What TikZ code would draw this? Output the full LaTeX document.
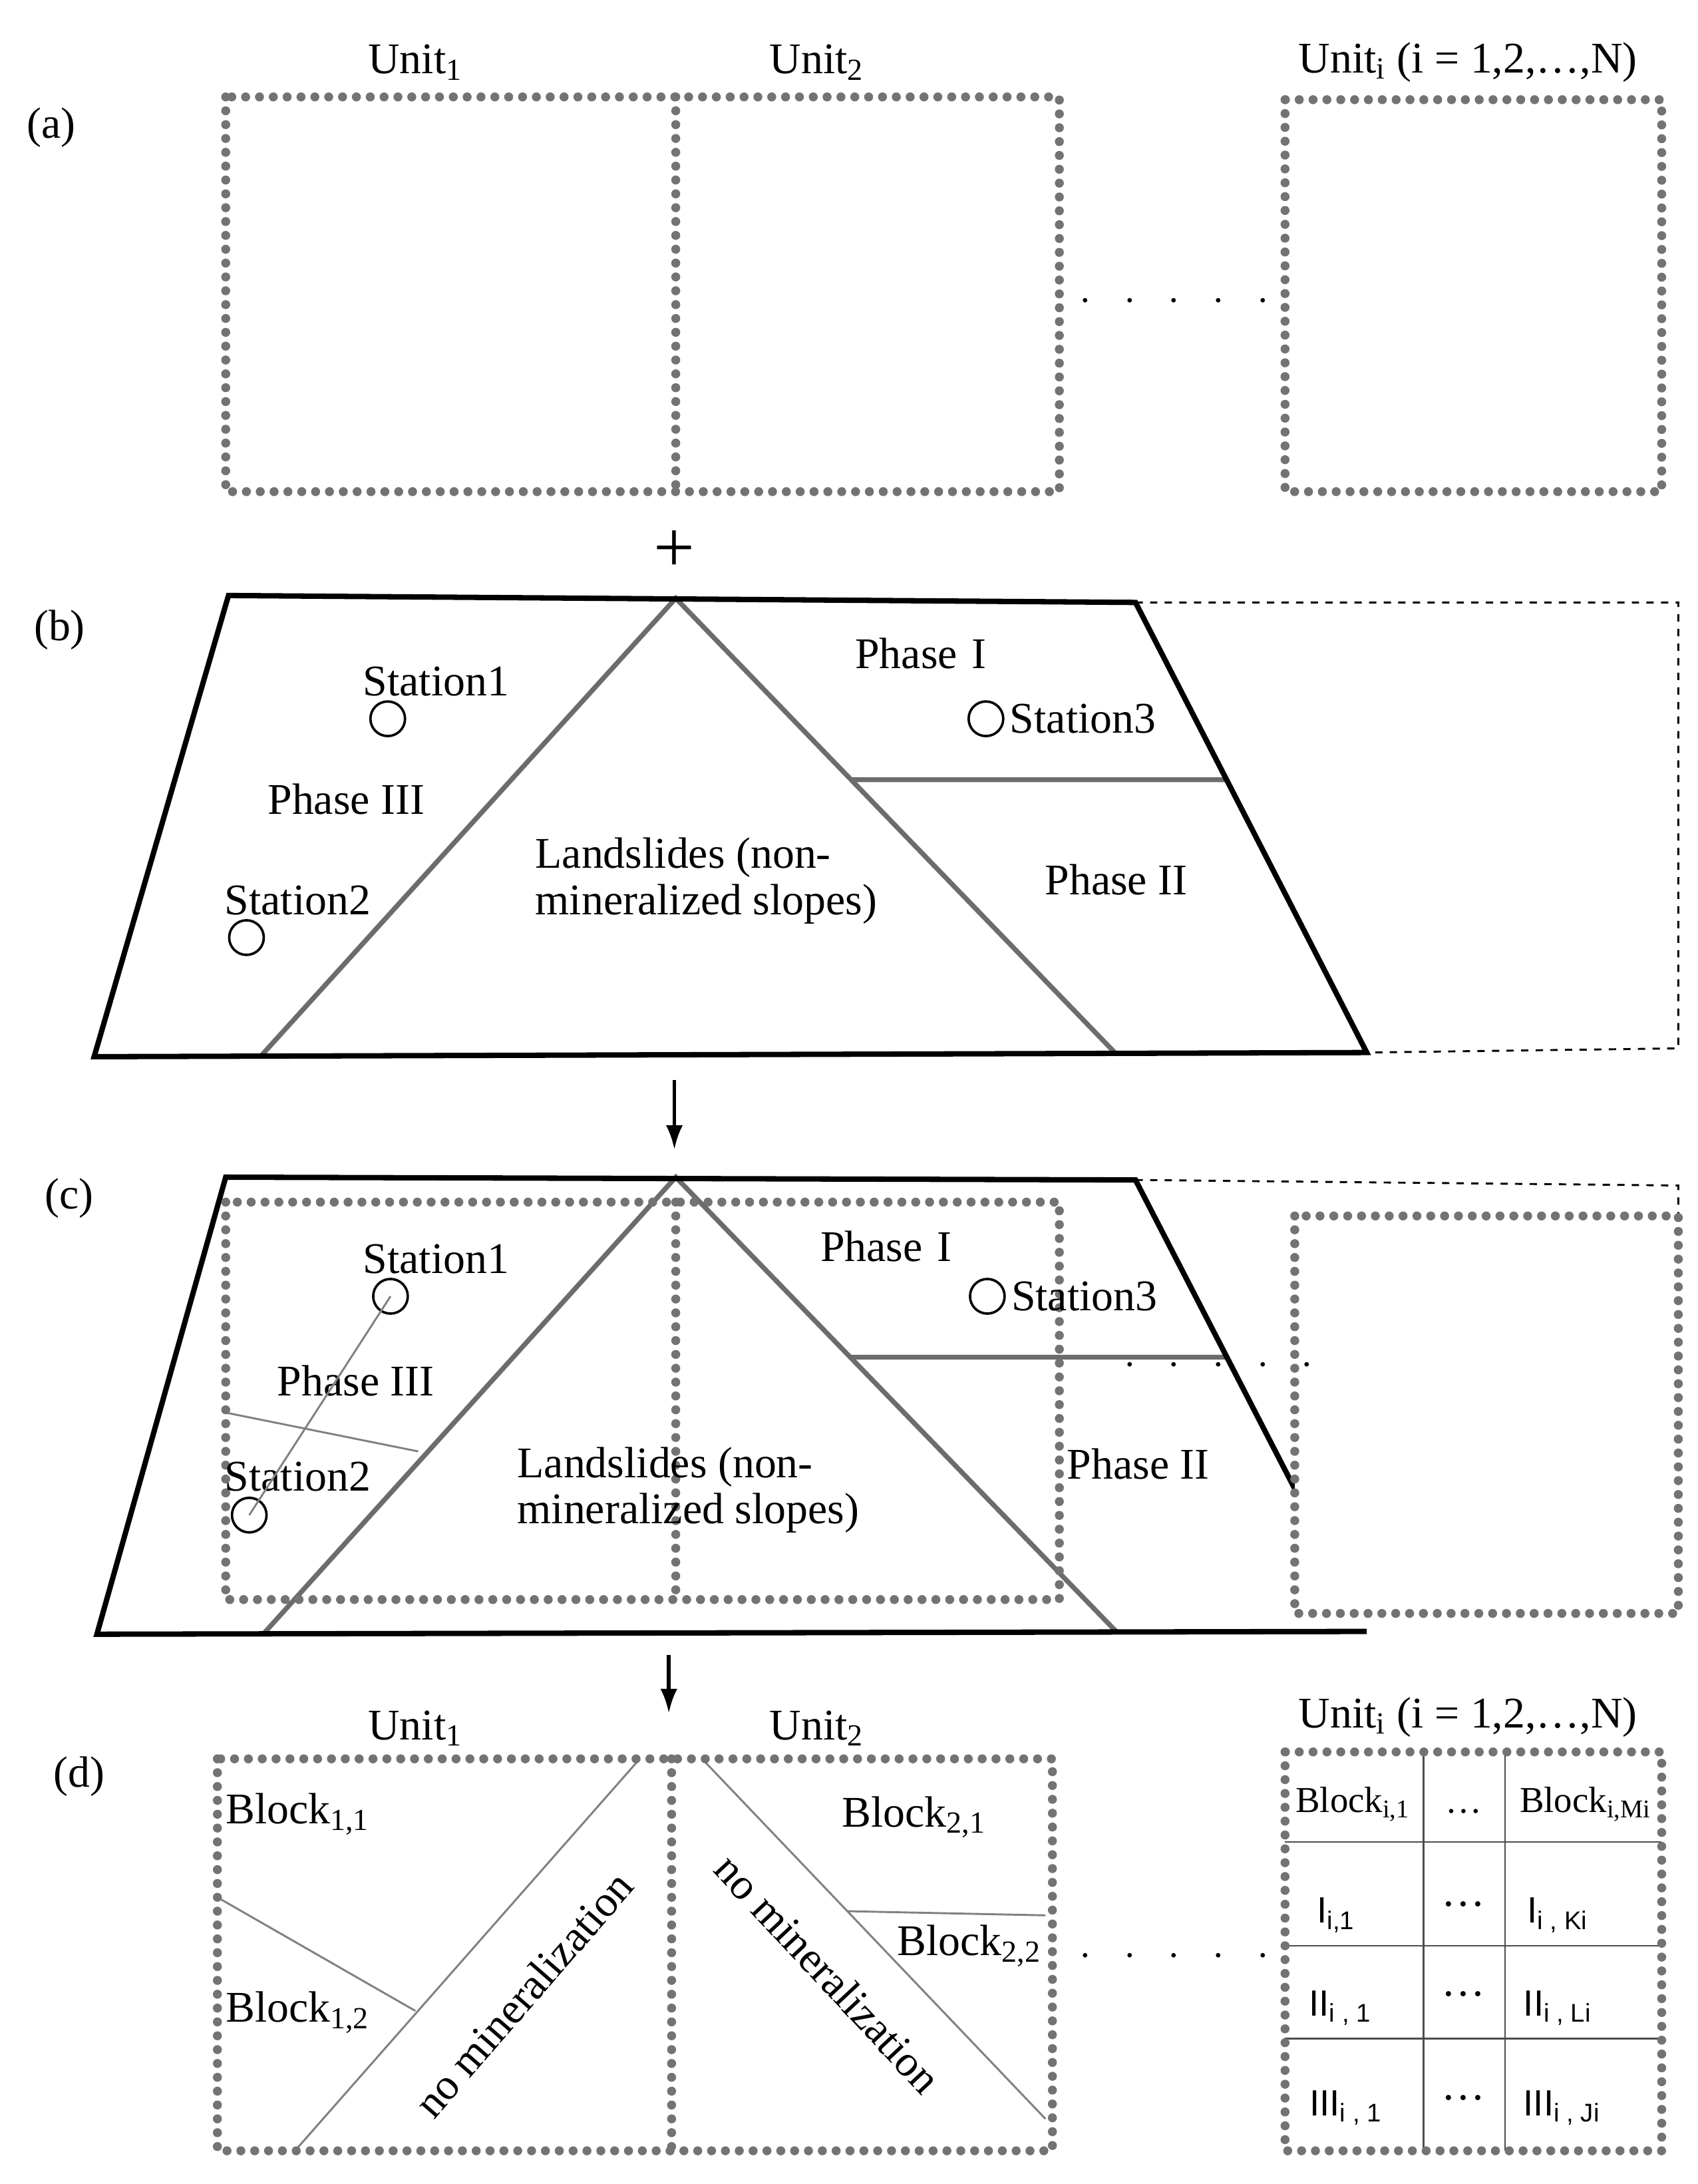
\documentclass[tikz,border=0pt]{standalone}
\usepackage{fontspec}
\setmainfont{Liberation Serif}
\newfontfamily\sansf{Liberation Sans}
\usetikzlibrary{arrows.meta}
\begin{document}
\begin{tikzpicture}[x=0.02cm,y=-0.02cm,
 dotb/.style={draw=gray!90!black,line width=0.13cm,dash pattern=on 0pt off 0.2cm,line cap=round},
 thick1/.style={line width=2.2pt,black},
 tri/.style={draw=gray!85!black,line width=2pt},
 thin1/.style={draw=gray,line width=0.8pt},
 txt/.style={font=\fontsize{18}{21}\selectfont,inner sep=0pt},
 st/.style={circle,draw,line width=1pt,minimum size=0.5cm,inner sep=0pt},
 arr/.style={-{Latex[length=10pt,width=7pt]},line width=1.5pt}]
\useasboundingbox (0,0) rectangle (1226,1577);
% (a)
\node[txt] (la) at (37,92) {(a)};
\node[txt] (u1) at (300,45) {Unit\textsubscript{1}};
\node[txt] (u2) at (590,45) {Unit\textsubscript{2}};
\node[txt] (ui) at (1060,45) {Unit\textsubscript{i} (i = 1,2,\ldots,N)};
\draw[dotb] (163,70) rectangle (765,355) (488,70) -- (488,355);
\draw[dotb] (928,72) rectangle (1200,355);
\node[txt,font=\bfseries\fontsize{18}{21}\selectfont] (da) at (848,218) {$\cdot\;\;\cdot\;\;\cdot\;\;\cdot\;\;\cdot$};
\node[font=\fontsize{30}{30}\selectfont] (plus) at (487,398) {+};
% (b)
\node[txt] (lb) at (43,455) {(b)};
\draw[dashed,line width=0.8pt] (820,435) -- (1212,435) -- (1212,757) -- (987,760);
\draw[tri] (188,763) -- (488,432) -- (806,761) (615,563) -- (885,563);
\draw[thick1] (165,430) -- (820,435) -- (987,760) -- (68,763) -- cycle;
\node[txt] (p1b) at (665,472) {Phase\,\,I};
\node[st] (s3b) at (712,519) {}; \node[txt,anchor=west] (t3b) at (729,519) {Station3};
\node[txt] (t1b) at (315,492) {Station1}; \node[st] (s1b) at (280,519) {};
\node[txt] (p3b) at (250,577) {Phase III};
\node[txt] (t2b) at (215,650) {Station2}; \node[st] (s2b) at (178,677) {};
\node[txt,align=left] (lsb) at (510,636) {Landslides (non-\\[-2pt]mineralized slopes)};
\node[txt] (p2b) at (806,635) {Phase II};
\coordinate (ab1) at (487,780); \coordinate (ab2) at (487,830);
\draw[arr] (ab1) -- (ab2);
% (c)
\node[txt] (lc) at (50,865) {(c)};
\draw[dashed,line width=0.8pt] (820,852) -- (1212,856) -- (1212,878);
\draw[tri] (190,1180) -- (488,850) -- (806,1178) (615,980) -- (885,980);
\draw[thin1] (163,1020) -- (302,1048);
\draw[thick1] (987,1178) -- (70,1180) -- (163,850) -- (820,852) -- (935,1075);
\draw[dotb] (163,868) rectangle (765,1155) (488,868) -- (488,1155);
\draw[dotb,fill=white] (935,878) rectangle (1212,1165);
\node[txt] (dc) at (880,986) {$\cdot\;\;\cdot\;\;\cdot\;\;\cdot\;\;\cdot$};
\node[txt] (p1c) at (640,900) {Phase\,\,I};
\node[st] (s3c) at (713,936) {}; \node[txt,anchor=west] (t3c) at (730,936) {Station3};
\node[txt] (t1c) at (315,909) {Station1}; \node[st] (s1c) at (282,936) {};
\node[txt] (p3c) at (257,997) {Phase III};
\node[txt] (t2c) at (215,1066) {Station2}; \node[st] (s2c) at (180,1094) {};
\draw[thin1] (s1c.center) -- (s2c.center);
\node[txt,align=left] (lsc) at (497,1076) {Landslides (non-\\[-2pt]mineralized slopes)};
\node[txt] (p2c) at (822,1057) {Phase II};
\coordinate (ac1) at (483,1195); \coordinate (ac2) at (483,1237);
\draw[arr] (ac1) -- (ac2);
% (d)
\node[txt] (ld) at (57,1283) {(d)};
\node[txt] (d1) at (300,1248) {Unit\textsubscript{1}};
\node[txt] (d2) at (590,1248) {Unit\textsubscript{2}};
\node[txt] (di) at (1060,1240) {Unit\textsubscript{i} (i = 1,2,\ldots,N)};
\draw[thin1] (213,1553) -- (462,1270) (507,1270) -- (755,1530) (157,1370) -- (300,1452) (612,1380) -- (755,1383);
\draw[dotb] (157,1270) rectangle (760,1553) (485,1270) -- (485,1553);
\node[txt] (b11) at (215,1310) {Block\textsubscript{1,1}};
\node[txt] (b12) at (215,1453) {Block\textsubscript{1,2}};
\node[txt] (b21) at (660,1312) {Block\textsubscript{2,1}};
\node[txt] (b22) at (700,1405) {Block\textsubscript{2,2}};
\node[txt,rotate=49] (nm1) at (378,1440) {no mineralization};
\node[txt,rotate=-47] (nm2) at (598,1425) {no mineralization};
\node[txt] (dd) at (848,1413) {$\cdot\;\;\cdot\;\;\cdot\;\;\cdot\;\;\cdot$};
\draw[line width=0.6pt,gray!60!black] (1028,1265) -- (1028,1553) (1087,1265) -- (1087,1553)
  (928,1330) -- (1200,1330) (928,1405) -- (1200,1405) (928,1472) -- (1202,1472);
\draw[dotb] (928,1265) rectangle (1200,1553);
\node[txt,font=\fontsize{15}{18}\selectfont] (bi1) at (977,1303) {Block\textsubscript{i,1}};
\node[txt,font=\fontsize{15}{18}\selectfont] (bim) at (1145,1303) {Block\textsubscript{i,Mi}};
\node[txt,font=\fontsize{15}{18}\selectfont] (e1) at (1057,1308) {\ldots};
\node[txt,font=\fontsize{15}{18}\sansf] (i1) at (965,1383) {I\textsubscript{i,1}};
\node[txt,font=\fontsize{15}{18}\sansf] (ik) at (1125,1383) {I\textsubscript{i , Ki}};
\node[txt] (e2) at (1057,1375) {\ldots};
\node[txt,font=\fontsize{15}{18}\sansf] (ii1) at (968,1450) {II\textsubscript{i , 1}};
\node[txt,font=\fontsize{15}{18}\sansf] (iil) at (1125,1450) {II\textsubscript{i , Li}};
\node[txt] (e3) at (1057,1440) {\ldots};
\node[txt,font=\fontsize{15}{18}\sansf] (iii1) at (972,1522) {III\textsubscript{i , 1}};
\node[txt,font=\fontsize{15}{18}\sansf] (iij) at (1128,1522) {III\textsubscript{i , Ji}};
\node[txt] (e4) at (1057,1515) {\ldots};
\end{tikzpicture}
\end{document}
